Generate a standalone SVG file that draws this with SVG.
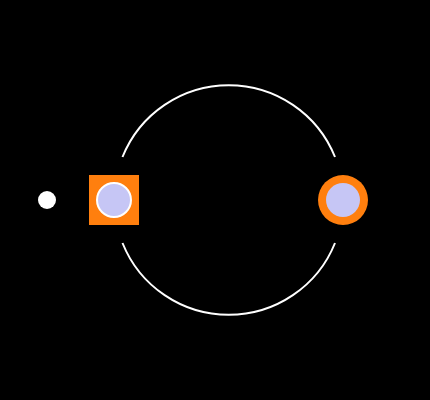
<svg xmlns="http://www.w3.org/2000/svg" width="430" height="400" viewBox="0 0 430 400">
<style>
.arc{fill:none;stroke:#fff;stroke-width:2}
.orange{fill:#ff7f0e}
.inner{fill:#c6c6f5}
</style>
<rect width="430" height="400" fill="#000"/>
<g id="connectors">
<path class="arc" d="M122.5 157 A114.5 114.5 0 0 1 335 157"/>
<path class="arc" d="M122.5 243 A114.5 114.5 0 0 0 335 243"/>
</g>
<g id="node-dot"><circle cx="47" cy="200" r="9" fill="#fff"/></g>
<g id="node-square">
<rect class="orange" x="89" y="175" width="50" height="50"/>
<circle class="inner" cx="114" cy="200" r="17" stroke="#fff" stroke-width="2"/>
</g>
<g id="node-ring">
<circle class="orange" cx="343" cy="200" r="25"/>
<circle class="inner" cx="343" cy="200" r="17"/>
</g>
</svg>
